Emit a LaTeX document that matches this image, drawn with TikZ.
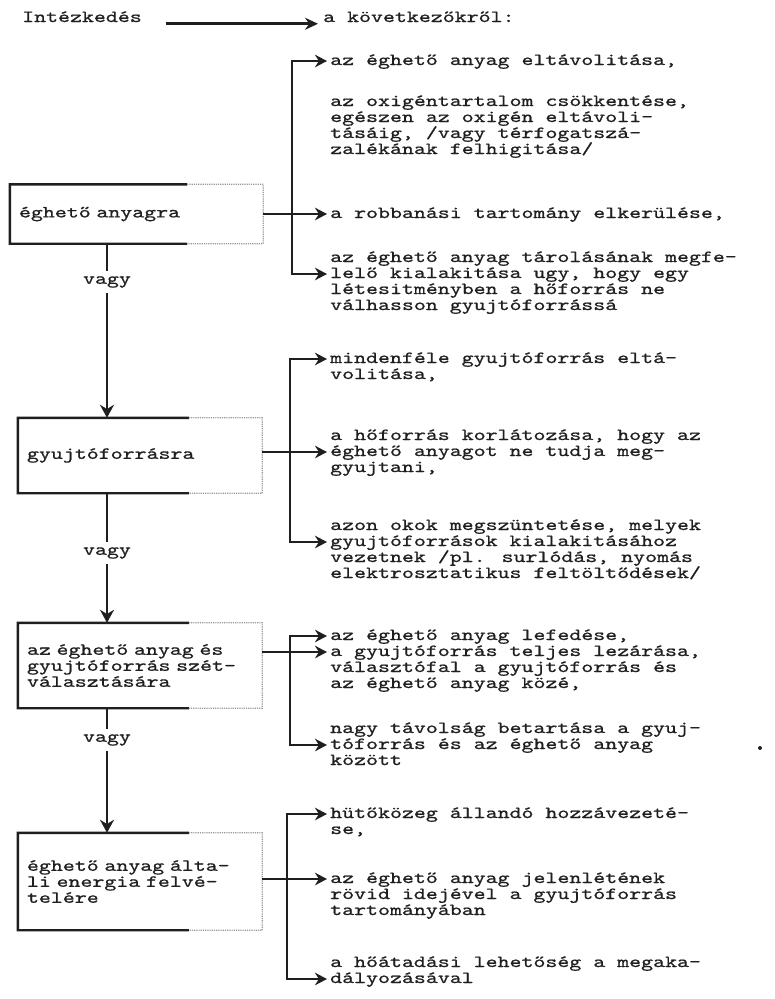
\documentclass[tikz,border=0pt]{standalone}
\usepackage{fontspec}
\newfontfamily\typewriter{lmmono10-regular.otf}[FakeStretch=1.34, FakeBold=0.8]
\usetikzlibrary{arrows.meta,calc}
\colorlet{ink}{black!88}
\colorlet{fadeink}{black!40}
\lineskiplimit=-50pt
\lineskip=0pt
\tikzset{
  tw/.style={font=\typewriter\fontsize{17}{16}\selectfont, text=ink, inner sep=0pt},
  % multi-line nodes: base = baseline of the last line
  item/.style={tw, align=left, anchor=base west},
  box/.style={tw, text width=226pt, inner xsep=9pt, align=left},
  vagy/.style={tw, inner ysep=5pt, inner xsep=3pt},
  boxline/.style={ink, line width=2.4pt},
  boxfaint/.style={fadeink, line width=1.2pt, densely dotted},
  bigtip/.tip={Stealth[length=12pt,width=12.5pt]},
  arr/.style={-{bigtip}, ink, line width=2pt},
  bus/.style={{bigtip}-{bigtip}, ink, line width=2.2pt},
  flow/.style={ink, line width=2.4pt},
  flowarr/.style={flow, -{Stealth[length=13pt,width=14pt]}},
  headarr/.style={-{Stealth[length=13pt,width=12pt]}, ink, line width=2.6pt},
}
\begin{document}
\begin{tikzpicture}[x=1pt, y=-1pt]
  \fill[white] (0,0) rectangle (775,999);
  % heading
  \node[item] (intro) at (22,22) {Intézkedés};
  \node[item] (head) at (323,22) {a következőkről:};
  \draw[headarr] ([xshift=24pt,yshift=-7pt]intro.east) -- ([xshift=-5pt,yshift=-7pt]intro.east -| head.west);

  % boxes on the left
  \node[box, text width=235pt, minimum height=59pt] (b1) at (136.5,214) {éghető anyagra};
  \node[box, minimum height=75pt] (b2) at (140,455.5) {gyujtóforrásra};
  \node[box, minimum height=85pt] (b3) at (140,665.5) {az éghető anyag és\\gyujtóforrás szét-\\választására};
  \node[box, minimum height=97pt] (b4) at (140,881.5) {éghető anyag álta-\\li energia felvé-\\telére};
  \foreach \b in {b1,b2,b3,b4} {
    \draw[boxline] ($(\b.north west)!0.7!(\b.north east)$) -- (\b.north west)
      -- (\b.south west) -- ($(\b.south west)!0.7!(\b.south east)$);
    \draw[boxfaint] ($(\b.north west)!0.7!(\b.north east)$) -- (\b.north east)
      -- (\b.south east) -- ($(\b.south west)!0.7!(\b.south east)$);
  }

  % vagy
  \node[vagy] (v1) at (107,282) {vagy};
  \node[vagy] (v2) at (107,553) {vagy};
  \node[vagy] (v3) at (107,740) {vagy};
  \draw[flow] (b1.south -| v1) -- (v1);
  \draw[flowarr] (v1) -- (b2.north -| v1);
  \draw[flow] (b2.south -| v2) -- (v2);
  \draw[flowarr] (v2) -- (b3.north -| v2);
  \draw[flow] (b3.south -| v3) -- (v3);
  \draw[flowarr] (v3) -- (b4.north -| v3);

  % measures on the right (y = baseline of the last line)
  \node[item] (i1) at (330,65) {az éghető anyag eltávolitása,};
  \node[item] (i2) at (330,154) {az oxigéntartalom csökkentése,\\egészen az oxigén eltávoli-\\tásáig, /vagy térfogatszá-\\zalékának felhigitása/};
  \node[item] (i3) at (330,218) {a robbanási tartomány elkerülése,};
  \node[item] (i4) at (330,310) {az éghető anyag tárolásának megfe-\\lelő kialakitása ugy, hogy egy\\létesitményben a hőforrás ne\\válhasson gyujtóforrássá};
  \node[item] (i5) at (330,379) {mindenféle gyujtóforrás eltá-\\volitása,};
  \node[item] (i6) at (330,472) {a hőforrás korlátozása, hogy az\\éghető anyagot ne tudja meg-\\gyujtani,};
  \node[item] (i7) at (330,578) {azon okok megszüntetése, melyek\\gyujtóforrások kialakitásához\\vezetnek /pl. surlódás, nyomás\\elektrosztatikus feltöltődések/};
  \node[item] (i8) at (330,688) {az éghető anyag lefedése,\\a gyujtóforrás teljes lezárása,\\választófal a gyujtóforrás és\\az éghető anyag közé,};
  \node[item] (i9) at (330,765) {nagy távolság betartása a gyuj-\\tóforrás és az éghető anyag\\között};
  \node[item] (i10) at (330,834) {hütőközeg állandó hozzávezeté-\\se,};
  \node[item] (i11) at (330,915) {az éghető anyag jelenlétének\\rövid idejével a gyujtóforrás\\tartományában};
  \node[item] (i12) at (330,983) {a hőátadási lehetőség a megaka-\\dályozásával};

  % arrow ends
  \coordinate (a1) at (327,61);
  \coordinate (a3) at (327,214);
  \coordinate (a4) at (327,274);
  \coordinate (a5) at (327,359);
  \coordinate (a6) at (327,452);
  \coordinate (a7) at (327,542);
  \coordinate (a8) at (327,636);
  \coordinate (a8b) at (327,652);
  \coordinate (a9) at (327,745);
  \coordinate (a10) at (327,814);
  \coordinate (a11) at (327,879);
  \coordinate (a12) at (327,979);
  \coordinate (bus1) at (292,0);
  \coordinate (bus2) at (290,0);
  \coordinate (bus3) at (290,0);
  \coordinate (bus4) at (287,0);

  \draw[bus] (a1) -- (a1 -| bus1) -- (a4 -| bus1) -- (a4);
  \draw[arr] (b1.east |- a3) -- (a3);
  \draw[bus] (a5) -- (a5 -| bus2) -- (a7 -| bus2) -- (a7);
  \draw[arr] (b2.east |- a6) -- (a6);
  \draw[bus] (a8) -- (a8 -| bus3) -- (a9 -| bus3) -- (a9);
  \draw[arr] (b3.east |- a8b) -- (a8b);
  \draw[bus] (a10) -- (a10 -| bus4) -- (a12 -| bus4) -- (a12);
  \draw[arr] (b4.east |- a11) -- (a11);

  \fill[ink] (760,748) circle (2);
\end{tikzpicture}
\end{document}
